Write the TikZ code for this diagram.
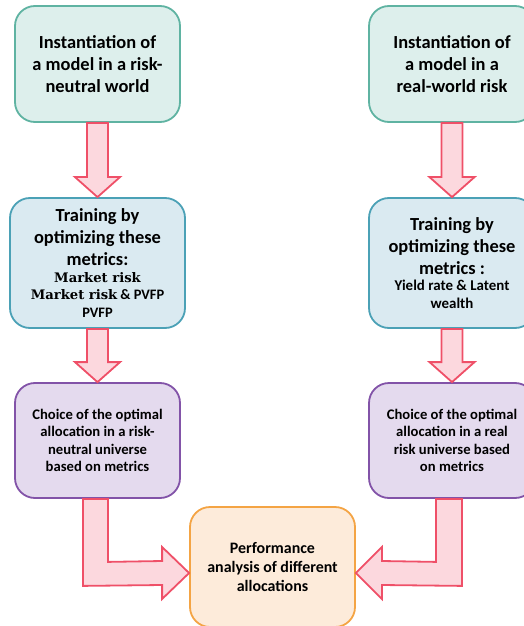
\documentclass[tikz,border=0pt]{standalone}
\usepackage{fontspec}
\setmainfont{Carlito}
\newfontfamily\metricserif{DejaVu Serif}
\usetikzlibrary{calc}

\definecolor{tealfill}{HTML}{DDEFEC}
\definecolor{tealline}{HTML}{5FB3A2}
\definecolor{bluefill}{HTML}{DAEAF1}
\definecolor{blueline}{HTML}{4BA1B6}
\definecolor{violetfill}{HTML}{E4DAEE}
\definecolor{violetline}{HTML}{8253A8}
\definecolor{orangefill}{HTML}{FDEBDA}
\definecolor{orangeline}{HTML}{F4A444}
\definecolor{arrowfill}{HTML}{FCD8DE}
\definecolor{arrowline}{HTML}{EF5068}

\newcommand{\bigtxt}{\fontsize{18.5}{22}\selectfont\bfseries}
\newcommand{\midtxt}{\fontsize{14.7}{17.5}\selectfont\bfseries}

\begin{document}
\begin{tikzpicture}[x=1bp,y=-1bp,
  box/.style={rectangle, rounded corners=20bp, line width=1.8bp, inner sep=0pt, align=center},
  stagea/.style={box, draw=tealline, fill=tealfill, minimum width=165bp, minimum height=116bp},
  stageb/.style={box, draw=blueline, fill=bluefill, minimum height=130bp},
  stagec/.style={box, draw=violetline, fill=violetfill, minimum width=165bp, minimum height=115bp},
  staged/.style={box, draw=orangeline, fill=orangefill, minimum width=165bp, minimum height=120bp},
  blockarrow/.style={draw=arrowline, fill=arrowfill, line width=1.8bp, line join=miter}
]
\useasboundingbox (0,0) rectangle (524,626);

% stage boxes, left column (risk-neutral) and right column (real-world)
\node[stagea] (a1) at (97.5,64) {\parbox{160bp}{\centering\bigtxt Instantiation of\\ a model in a risk-\\ neutral world}};
\node[stagea, minimum width=166bp] (a2) at (452,64) {\parbox{160bp}{\centering\bigtxt Instantiation of\\ a model in a\\ real-world risk}};

\node[stageb, minimum width=175bp] (b1) at (97.5,263) {\parbox{170bp}{\centering\bigtxt Training by\\ optimizing these\\ metrics:\\[-1bp]
  \fontsize{13.2}{17.5}\selectfont{\metricserif\bfseries Market risk}\\
  {\metricserif\bfseries Market risk} {\fontsize{14.5}{17.5}\selectfont\bfseries\& PVFP}\\
  \fontsize{14.5}{17.5}\selectfont\bfseries PVFP}};
\node[stageb, minimum width=166bp] (b2) at (452,263) {\parbox{160bp}{\centering\bigtxt Training by\\ optimizing these\\ metrics :\\[-2bp]
  \fontsize{15}{18}\selectfont\bfseries Yield rate \& Latent\\ wealth}};

\node[stagec] (c1) at (97.5,440.5) {\parbox{160bp}{\centering\midtxt Choice of the optimal\\ allocation in a risk-\\ neutral universe\\ based on metrics}};
\node[stagec, minimum width=166bp] (c2) at (452,440.5) {\parbox{160bp}{\centering\midtxt Choice of the optimal\\ allocation in a real\\ risk universe based\\ on metrics}};

\node[staged] (d) at (272.5,567) {\parbox{160bp}{\centering\fontsize{16}{19.5}\selectfont\bfseries Performance\\ analysis of different\\ allocations}};

% straight block arrows between stacked boxes
\foreach \s/\t in {a1/b1, a2/b2, b1/c1, b2/c2}{
  \path[blockarrow]
    ($(\s.south)+(-10.5,0)$) -- ($(\t.north)+(-10.5,-20)$) -- ($(\t.north)+(-22.5,-20)$)
    -- (\t.north) -- ($(\t.north)+(22.5,-20)$) -- ($(\t.north)+(10.5,-20)$)
    -- ($(\s.south)+(10.5,0)$) -- cycle;
}

% bent block arrows into the analysis box
\path[blockarrow]
  ($(c1.south)+(-14.5,0)$) -- ($(c1.south)+(-14.5,87)$) -- ($(d.west)+(-27,18)$)
  -- ($(d.west)+(-27,32)$) -- ($(d.west)+(0,6)$) -- ($(d.west)+(-27,-20)$)
  -- ($(d.west)+(-27,-6)$) -- ($(c1.south)+(10.5,63)$) -- ($(c1.south)+(10.5,0)$) -- cycle;
\path[blockarrow]
  ($(c2.south)+(10,0)$) -- ($(c2.south)+(10,87)$) -- ($(d.east)+(26,18)$)
  -- ($(d.east)+(26,32)$) -- ($(d.east)+(0,6)$) -- ($(d.east)+(26,-20)$)
  -- ($(d.east)+(26,-6)$) -- ($(c2.south)+(-16,63)$) -- ($(c2.south)+(-16,0)$) -- cycle;
\end{tikzpicture}
\end{document}
